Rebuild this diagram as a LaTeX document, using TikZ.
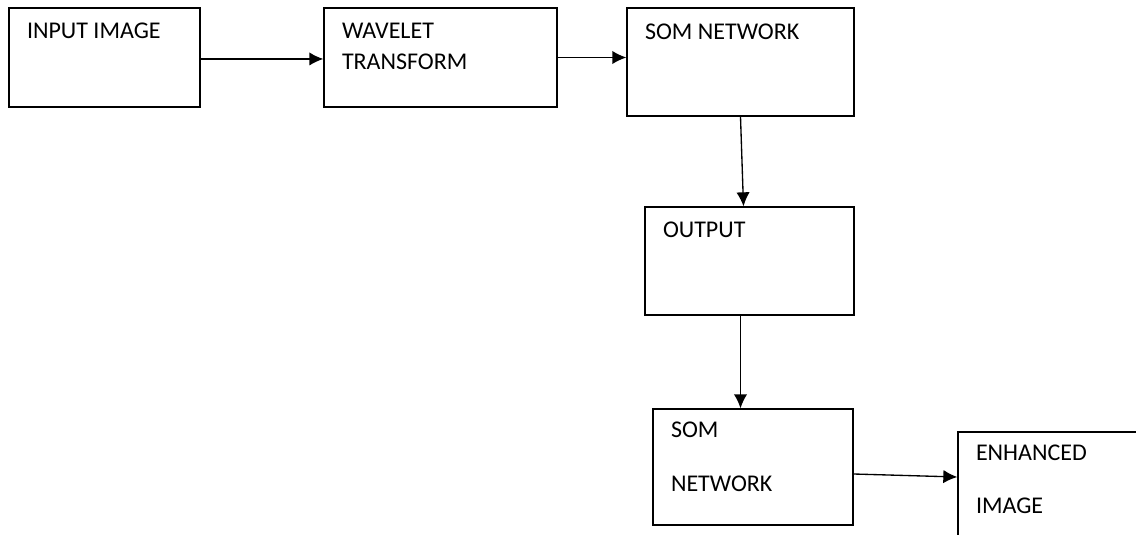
\documentclass[tikz,border=0pt]{standalone}
\usepackage{fontspec}
\setmainfont{Carlito}
\usetikzlibrary{arrows.meta}

\tikzset{
	blk/.style={draw, line width=1pt, rectangle, inner sep=0pt},
	txt/.style={anchor=base west, inner sep=0pt, align=left, font=\fontsize{18}{23.25}\selectfont}
}

\begin{document}
\begin{tikzpicture}[x=0.75pt, y=-0.75pt, >={Latex[length=10.5pt,width=10pt]}, line width=1pt]
			\useasboundingbox (0,0) rectangle (1136,535);
			%%%	Blocchi
			\node[blk, minimum width=143.25pt, minimum height=74.25pt] (in) at (104.5,57.5) {};
			\node[blk, minimum width=174.75pt, minimum height=74.25pt] (wav) at (440.5,57.5) {};
			\node[blk, minimum width=170.25pt, minimum height=81pt] (som) at (740.5,62) {};
			\node[blk, minimum width=156.75pt, minimum height=81pt] (out) at (749.5,261) {};
			\node[blk, minimum width=150pt, minimum height=87pt] (som2) at (753,467) {};
			\node[blk, minimum width=181.5pt, minimum height=126pt] (enh) at (1079,516) {};
			%%%	Testi (ancorati alla linea di base dell'ultima riga)
			\node[txt] (in-t) at ([shift={(18,31)}]in.north west) {INPUT IMAGE};
			\node[txt] (wav-t) at ([shift={(18,62)}]wav.north west) {WAVELET\\TRANSFORM};
			\node[txt] (som-t) at ([shift={(18,32)}]som.north west) {SOM NETWORK};
			\node[txt] (out-t) at ([shift={(18,31)}]out.north west) {OUTPUT};
			\node[txt] (som2-t) at ([shift={(18,83)}]som2.north west) {SOM\\[17.25pt]NETWORK};
			\node[txt] (enh-t) at ([shift={(18,82)}]enh.north west) {ENHANCED\\[16.5pt]IMAGE};
			%%%	Frecce
			\draw[->] ([yshift=-1.1pt]in.east) -- ([yshift=-1.1pt]wav.west);
			\draw[->] (wav.east) -- (wav.east -| som.west);
			\draw[->] (som.south) -- ([xshift=2.25pt]som.south |- out.north);
			\draw[->] (out.south -| som.south) -- (som2.north -| som.south);
			\draw[->] ([yshift=-5.25pt]som2.east) -- ([yshift=29.25pt]enh.west);
		\end{tikzpicture}
\end{document}
